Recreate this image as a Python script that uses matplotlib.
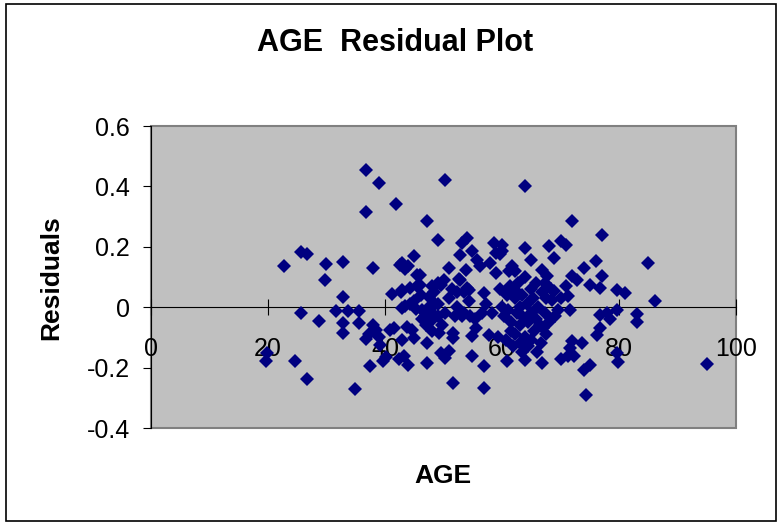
import matplotlib
matplotlib.use('Agg')
import matplotlib.pyplot as plt
from matplotlib.patches import Rectangle

plt.rcParams['font.family'] = ['Liberation Sans', 'DejaVu Sans']

# AGE values and residuals
age = [
    19.6, 19.8, 22.8, 24.6, 25.7, 26.6, 25.6, 26.7, 28.7, 29.9, 29.7, 31.6, 32.9, 32.8, 32.8, 32.8, 33.7, 34.8, 35.5, 35.5,
    36.8, 36.8, 37.9, 38.9, 41.9, 37.5, 36.8, 37.2, 37.9, 38.4, 38.9, 39.2, 39.7, 40.2, 40.9, 41.2, 41.6,
    42.7, 42.5, 42.9, 43.5, 44.0, 44.9, 42.9, 44.3, 42.9, 43.5, 44.2, 43.8, 44.6, 44.9, 42.9, 43.2, 44.0, 42.4,
    45.0, 45.3, 45.5, 45.5, 46.0, 46.0, 46.1,
    46.3, 46.3, 46.8, 47.1, 47.0, 47.2, 47.2, 47.5, 47.5, 47.8, 48.0, 48.0, 48.0, 48.3, 48.6, 49.0, 49.1, 49.5,
    49.1, 49.1, 49.2, 49.5, 49.8, 50.0, 50.2, 50.2, 50.3, 50.9, 50.9,
    51.0, 51.4, 51.7, 51.7, 51.7, 52.0, 52.3, 52.3, 52.7, 52.9, 52.9, 53.2, 53.2, 53.5, 53.5, 53.9, 54.0, 54.0,
    54.3, 54.3, 54.6, 54.9, 54.9, 54.9, 55.3, 55.6, 55.7, 56.3,
    56.5, 56.9, 57.2, 56.9, 56.9, 57.7, 58.0, 58.3, 58.6, 58.9, 58.9, 59.3, 59.6, 59.6, 60.0, 60.0, 60.0, 60.3,
    60.9, 60.6, 60.9, 61.0, 61.2, 61.4, 61.7, 61.6, 61.6, 61.8,
    62.3, 62.3, 62.3, 62.3, 62.6, 62.8, 63.0, 63.0, 63.0, 63.5, 63.5, 63.5, 64.0, 64.0, 64.0, 64.0, 64.0, 64.3,
    64.5, 64.5, 64.9, 65.0, 65.0, 65.0, 65.3, 65.5, 65.8, 65.8, 66.0, 66.2, 66.5, 66.6, 66.8, 66.9, 66.9, 67.0,
    67.3, 67.3, 67.6, 67.6, 67.7, 68.0, 68.0, 68.3,
    68.6, 68.9, 68.9, 69.0, 69.5, 70.0, 70.0, 70.0, 70.9, 70.9, 71.2, 71.2, 71.7, 71.7, 72.0, 72.0, 72.0, 72.3,
    72.9, 73.7, 74.0, 74.0, 74.3, 75.1, 75.1, 76.0,
    76.2, 76.8, 76.8, 76.8, 77.1, 77.1, 78.0, 78.5, 79.7, 79.7, 79.7, 79.9, 81.1, 83.0, 83.0, 85.0, 86.1, 95.0,
]
residuals = [
    -0.179, -0.152, 0.137, -0.179, 0.183, 0.176, -0.019, -0.238, -0.047, 0.143, 0.089, -0.014, 0.149, 0.034, -0.052, -0.085, -0.014, -0.271, -0.014, -0.052,
    0.454, 0.315, 0.130, 0.412, 0.341, -0.194, -0.105, -0.090, -0.060, -0.075, -0.100, -0.125, -0.179, -0.165, -0.075, 0.045, -0.070,
    0.050, 0.140, 0.146, 0.125, 0.135, 0.168, 0.058, 0.064, -0.003, 0.005, 0.010, -0.064, -0.075, -0.102, -0.108, -0.163, -0.190, -0.170,
    0.020, -0.005, 0.105, 0.070, 0.108, 0.075, 0.040,
    -0.010, -0.040, -0.030, 0.284, -0.060, -0.119, -0.185, 0.000, 0.035, -0.045, 0.070, -0.020, -0.080, 0.050, 0.010, 0.224, 0.080, 0.075,
    0.010, -0.030, -0.085, -0.152, -0.060, 0.091, 0.421, -0.020, -0.168, -0.146, 0.130,
    0.030, 0.060, -0.085, -0.102, -0.251, -0.030, 0.000, 0.050, 0.095, 0.174, 0.091, 0.213, -0.030, 0.050, -0.020, 0.124, 0.229, 0.065,
    0.058, 0.020, -0.030, 0.185, -0.097, -0.163, -0.040, -0.070, 0.157, 0.135,
    -0.020, 0.047, 0.010, -0.196, -0.268, -0.091, 0.146, -0.020, 0.213, 0.113, 0.180, -0.100, 0.175, 0.060, 0.207, 0.185, 0.000, -0.030,
    -0.179, -0.110, 0.041, -0.010, 0.119, 0.070, 0.135, -0.050, -0.080, -0.130,
    0.058, 0.120, 0.030, -0.090, -0.020, 0.080, 0.000, -0.060, -0.120, 0.040, -0.030, -0.150, 0.196, 0.401, 0.100, -0.100, -0.174, 0.010,
    -0.050, -0.130, 0.157, 0.060, -0.020, -0.110, 0.030, -0.080, 0.080, -0.040, -0.150, 0.000, -0.060, -0.120, 0.050, 0.124, -0.185, -0.070,
    0.080, -0.020, 0.030, -0.090, 0.102, 0.201, -0.050, 0.060,
    0.025, 0.163, 0.052, -0.030, -0.010, 0.218, 0.030, -0.170, 0.207, 0.069, 0.036, -0.163, -0.008, -0.135, 0.284, 0.102, -0.113, -0.163,
    0.091, -0.119, 0.130, -0.207, -0.290, 0.075, -0.190, 0.152,
    -0.091, 0.064, -0.025, -0.069, 0.240, 0.102, -0.019, -0.040, 0.058, -0.010, -0.152, -0.180, 0.048, -0.022, -0.050, 0.146, 0.019, -0.187,
]

x_ticks = [0, 20, 40, 60, 80, 100]
x_labels = ['0', '20', '40', '60', '80', '100']
y_ticks = [-0.4, -0.2, 0, 0.2, 0.4, 0.6]
y_labels = ['-0.4', '-0.2', '0', '0.2', '0.4', '0.6']

fig = plt.figure(figsize=(7.8, 5.23), dpi=100)
ax = fig.add_axes([151 / 780, 1 - 428 / 523, 585 / 780, 302 / 523])
ax.set_facecolor('#C0C0C0')

ax.plot(age, residuals, linestyle='none', marker='D', markersize=6.8,
        color='#000080', markeredgewidth=0, zorder=3)

ax.set_xlim(0, 100)
ax.set_ylim(-0.4, 0.6)

# excel style: x axis crosses at y=0, plot area with gray frame
ax.spines['bottom'].set_position(('data', 0))
ax.spines['top'].set_visible(False)
ax.spines['right'].set_visible(False)
ax.spines['left'].set_color('black')
ax.spines['bottom'].set_color('black')
ax.add_patch(Rectangle((0, 0), 1, 1, transform=ax.transAxes, fill=False,
                       edgecolor='#808080', linewidth=1.5, clip_on=False, zorder=1))

ax.set_xticks(x_ticks)
ax.set_xticklabels(x_labels)
ax.set_yticks(y_ticks)
ax.set_yticklabels(y_labels)
ax.tick_params(axis='x', direction='inout', length=11, pad=16, labelsize=18)
ax.tick_params(axis='y', direction='out', length=6, pad=9, labelsize=18)

fig.text(395 / 780, 1 - 43 / 523, 'AGE  Residual Plot', ha='center', va='center',
         fontsize=22, fontweight='bold')
fig.text(443 / 780, 1 - 476 / 523, 'AGE', ha='center', va='center',
         fontsize=19, fontweight='bold')
fig.text(51 / 780, 1 - 278 / 523, 'Residuals', ha='center', va='center',
         rotation=90, fontsize=19, fontweight='bold')

# outer chart border
fig.patches.append(Rectangle((6 / 780, 2 / 523), 770 / 780, 517 / 523,
                             transform=fig.transFigure, fill=False,
                             edgecolor='black', linewidth=1.2))

fig.savefig('out.png', dpi=100)
